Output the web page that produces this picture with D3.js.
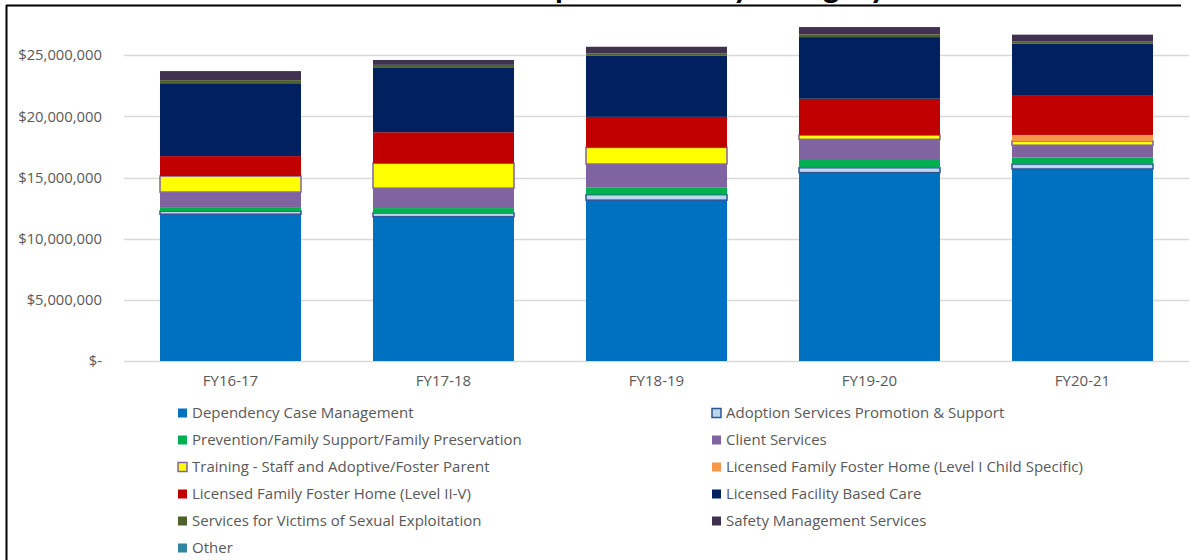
<!DOCTYPE html>
<html>
<head>
<meta charset="utf-8">
<script src="https://cdn.jsdelivr.net/npm/d3@7"></script>
<style>
  body { margin: 0; background: #fff; }
  svg { display: block; }
</style>
</head>
<body>
<svg width="1190" height="560"></svg>
<script>
let years = ["FY16-17", "FY17-18", "FY18-19", "FY19-20", "FY20-21"];

let series_names = [
  "Dependency Case Management",
  "Adoption Services Promotion & Support",
  "Prevention/Family Support/Family Preservation",
  "Client Services",
  "Training - Staff and Adoptive/Foster Parent",
  "Licensed Family Foster Home (Level I Child Specific)",
  "Licensed Family Foster Home (Level II-V)",
  "Licensed Facility Based Care",
  "Services for Victims of Sexual Exploitation",
  "Safety Management Services",
  "Other"
];

let dependency_case = [12000000, 11800000, 13150000, 15400000, 15700000];
let adoption_services = [250000, 300000, 450000, 400000, 400000];
let prevention = [330000, 400000, 600000, 630000, 540000];
let client_services = [1230000, 1630000, 1900000, 1690000, 1000000];
let training = [1310000, 2040000, 1360000, 350000, 350000];
let foster_level_1 = [0, 0, 0, 0, 490000];
let foster_level_2_5 = [1630000, 2530000, 2500000, 2970000, 3200000];
let facility_care = [5960000, 5310000, 5000000, 5040000, 4280000];
let victims_exploitation = [250000, 200000, 190000, 220000, 150000];
let safety_management = [740000, 400000, 540000, 600000, 570000];
let other = [0, 0, 0, 0, 0];

let y_ticks = [0, 5000000, 10000000, 15000000, 20000000, 25000000];

let series_values = [dependency_case, adoption_services, prevention, client_services, training,
  foster_level_1, foster_level_2_5, facility_care, victims_exploitation, safety_management, other];

let fills = ["#0070C0", "#BDD7EE", "#00B050", "#8064A2", "#FFFF00", "#F79646",
  "#C00000", "#002060", "#4F6228", "#403151", "#31859C"];
let strokes = [null, "#2F5597", null, null, "#8064A2", null, null, null, null, null, null];

var svg = d3.select("svg");
var margin = {top: 55.2, bottom: 361, left: 124, right: 1189};

// title sits mostly above the visible area, only its descenders show
svg.append("text")
  .attr("x", 520)
  .attr("y", -2)
  .attr("font-family", "Lato, sans-serif")
  .attr("font-weight", "bold")
  .attr("font-size", "32px")
  .attr("fill", "#000")
  .text("Expenditures by Category");

svg.append("path")
  .attr("d", "M6,5.5H1181M6.5,5V560")
  .attr("stroke", "#000")
  .attr("stroke-width", 2)
  .attr("fill", "none");

var table = years.map(function(year, i) {
  let row = {year: year};
  series_names.forEach(function(name, k) { row[name] = series_values[k][i]; });
  return row;
});

var stacked = d3.stack().keys(series_names)(table);

var x_axis = d3.scaleBand()
  .domain(years)
  .range([margin.left, margin.right])
  .paddingInner(0.338)
  .paddingOuter(0.169);

var y_axis = d3.scaleLinear()
  .domain([0, 25000000])
  .range([margin.bottom, margin.top]);

// grid lines
svg.append("g")
  .selectAll("line")
  .data(y_ticks)
  .enter().append("line")
    .attr("x1", margin.left)
    .attr("x2", margin.right)
    .attr("y1", d => Math.round(y_axis(d)) + 0.5)
    .attr("y2", d => Math.round(y_axis(d)) + 0.5)
    .attr("stroke", "#D9D9D9")
    .attr("stroke-width", 1.5);

svg.append("g")
  .attr("font-family", "'Open Sans', sans-serif")
  .attr("font-size", "14.8px")
  .attr("fill", "#595959")
  .attr("text-anchor", "end")
  .selectAll("text")
  .data(y_ticks)
  .enter().append("text")
    .attr("x", 102)
    .attr("y", d => y_axis(d))
    .attr("dy", "0.35em")
    .text(d => d == 0 ? "$-" : "$" + d3.format(",")(d));

var layers = svg.append("g")
  .selectAll("g")
  .data(stacked)
  .enter().append("g")
    .attr("fill", (d, k) => fills[k]);

layers.selectAll("rect")
  .data(d => d.map(function(v) { v.key = d.key; return v; }))
  .enter().append("rect")
    .attr("x", d => x_axis(d.data.year))
    .attr("y", d => y_axis(d[1]))
    .attr("width", x_axis.bandwidth())
    .attr("height", d => Math.max(0, y_axis(d[0]) - y_axis(d[1])))
    .attr("stroke", function(d) {
      let k = series_names.indexOf(d.key);
      return strokes[k] && d[1] > d[0] ? strokes[k] : "none";
    })
    .attr("stroke-width", 1.5);

svg.append("g")
  .attr("font-family", "'Open Sans', sans-serif")
  .attr("font-size", "15px")
  .attr("fill", "#595959")
  .attr("text-anchor", "middle")
  .selectAll("text")
  .data(years)
  .enter().append("text")
    .attr("x", d => x_axis(d) + x_axis.bandwidth() / 2)
    .attr("y", 381)
    .attr("dy", "0.35em")
    .text(d => d);

// legend, two columns
var legend = svg.append("g")
  .selectAll("g")
  .data(series_names)
  .enter().append("g")
    .attr("transform", (d, k) => "translate(" + (k % 2 == 0 ? 178 : 712) + "," + (413 + Math.floor(k / 2) * 27) + ")");

legend.append("rect")
  .attr("x", 0)
  .attr("y", -4.5)
  .attr("width", 9)
  .attr("height", 9)
  .attr("fill", (d, k) => fills[k])
  .attr("stroke", (d, k) => strokes[k] ? strokes[k] : "none")
  .attr("stroke-width", 1.5);

legend.append("text")
  .attr("x", 14)
  .attr("y", 0)
  .attr("dy", "0.35em")
  .attr("font-family", "'Open Sans', sans-serif")
  .attr("font-size", "15px")
  .attr("fill", "#595959")
  .text(d => d);
</script>
</body>
</html>
